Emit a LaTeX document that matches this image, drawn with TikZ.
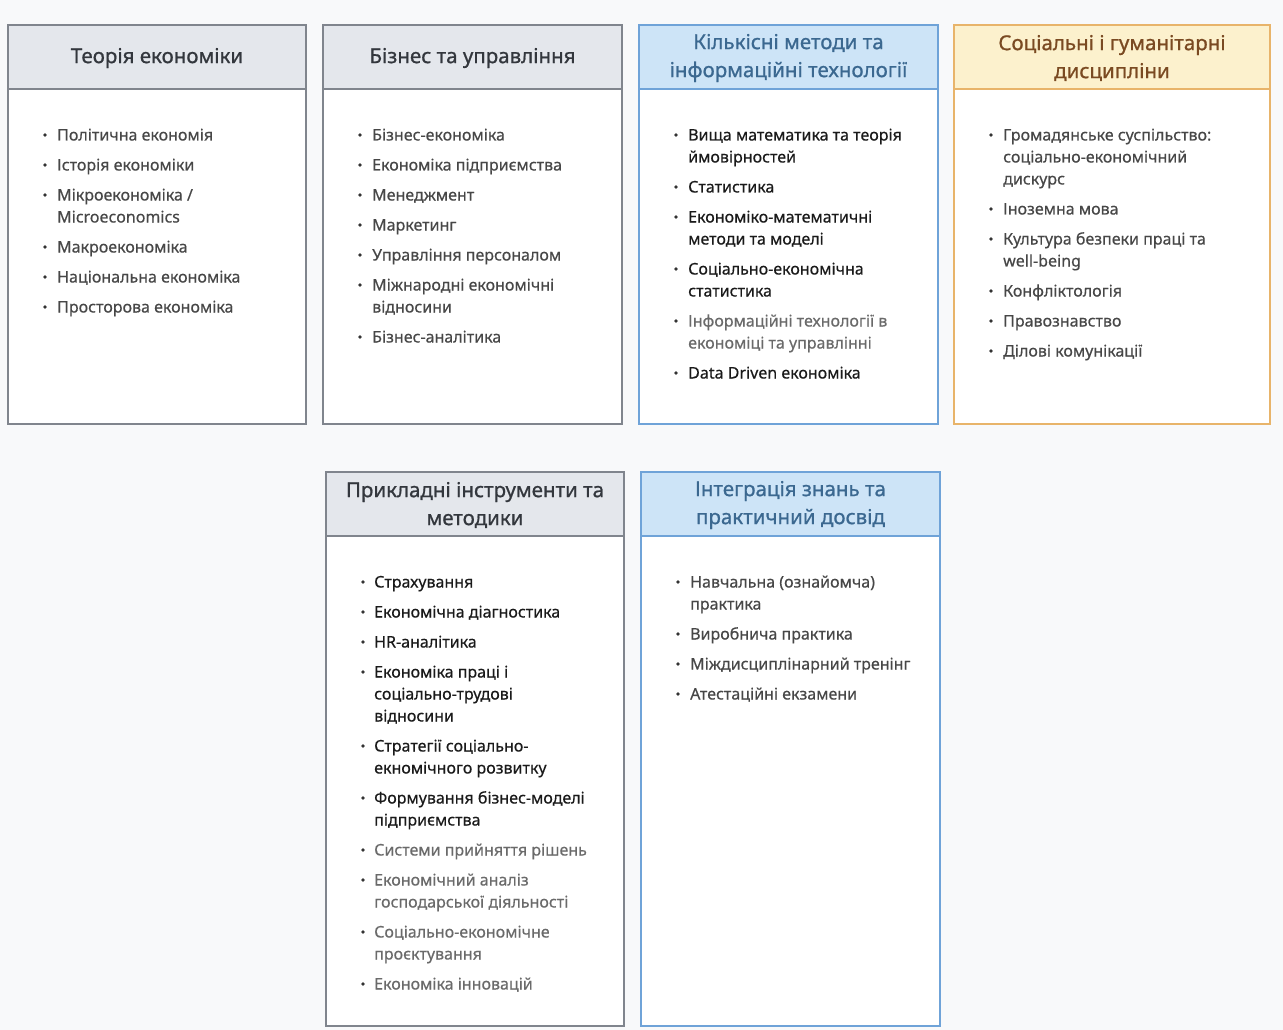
\documentclass[tikz,border=0pt]{standalone}
\usepackage{fontspec}
\setmainfont{Noto Sans}
\usepackage{tikz}
\usetikzlibrary{calc}

\definecolor{pagebg}{HTML}{F8F9FA}
\definecolor{greyhead}{HTML}{E4E7EC}
\definecolor{greyline}{HTML}{80858D}
\definecolor{greytitle}{HTML}{33373D}
\definecolor{bluehead}{HTML}{CDE4F7}
\definecolor{blueline}{HTML}{6FA3D8}
\definecolor{bluetitle}{HTML}{3B6890}
\definecolor{yellowhead}{HTML}{FCF1CD}
\definecolor{yellowline}{HTML}{E8B46A}
\definecolor{yellowtitle}{HTML}{7A4A22}
\definecolor{itemgrey}{HTML}{474747}
\definecolor{itemdark}{HTML}{1A1A1A}
\definecolor{itemlight}{HTML}{6A6A6A}

\newfontfamily\titlefont[FakeBold=0.9]{Noto Sans}
\newfontfamily\itemfont[FakeBold=0.45]{Noto Sans}

\begin{document}
\begin{tikzpicture}[x=1pt, y=-1pt,
    panel/.style={line width=1.4pt, fill=white},
    header/.style={line width=1.4pt},
    title/.style={align=center, font=\titlefont\fontsize{20.5}{28}\selectfont},
    item/.style={anchor=base west, inner sep=0pt, font=\itemfont\fontsize{16}{22}\selectfont},
    dot/.style={fill=black!80}]

        % page
        \fill[pagebg] (0,0) rectangle (1283,1030);
        \useasboundingbox (0,0) rectangle (1283,1030);

        % Теорія економіки
        \draw[panel, draw=greyline] (8,25) rectangle (306,424);
        \draw[header, draw=greyline, fill=greyhead] (8,25) rectangle (306,89);
        \node[title, text=greytitle] (h1) at (157,58) {Теорія економіки};
        \foreach \y in {135,165,195,247,277,307} {
            \fill[dot] (45,\y) circle (1.8pt);
        }
        \foreach \y/\t [count=\i] in {135/Політична економія, 165/Історія економіки,
            195/{Мікроекономіка /}, 217/Microeconomics, 247/Макроекономіка,
            277/Національна економіка, 307/Просторова економіка} {
            \node[item, text=itemgrey] (a\i) at (57,\y+5.5) {\t};
        }

        % Бізнес та управління
        \draw[panel, draw=greyline] (323,25) rectangle (622,424);
        \draw[header, draw=greyline, fill=greyhead] (323,25) rectangle (622,89);
        \node[title, text=greytitle] (h2) at (472.5,58) {Бізнес та управління};
        \foreach \y in {135,165,195,225,255,285,337} {
            \fill[dot] (360,\y) circle (1.8pt);
        }
        \foreach \y/\t [count=\i] in {135/Бізнес-економіка, 165/Економіка підприємства,
            195/Менеджмент, 225/Маркетинг, 255/Управління персоналом,
            285/Міжнародні економічні, 307/відносини, 337/Бізнес-аналітика} {
            \node[item, text=itemgrey] (b\i) at (372,\y+5.5) {\t};
        }

        % Кількісні методи та інформаційні технології
        \draw[panel, draw=blueline] (639,25) rectangle (938,424);
        \draw[header, draw=blueline, fill=bluehead] (639,25) rectangle (938,89);
        \node[title, text=bluetitle] (h3) at (788.5,58) {Кількісні методи та\\інформаційні технології};
        \foreach \y in {135,187,217,269,321,373} {
            \fill[dot] (676,\y) circle (1.8pt);
        }
        \foreach \y/\c/\t [count=\i] in {135/itemdark/Вища математика та теорія,
            157/itemdark/ймовірностей, 187/itemdark/Статистика,
            217/itemdark/Економіко-математичні, 239/itemdark/методи та моделі,
            269/itemdark/Соціально-економічна, 291/itemdark/статистика,
            321/itemlight/Інформаційні технології в, 343/itemlight/економіці та управлінні,
            373/itemdark/Data Driven економіка} {
            \node[item, text=\c] (c\i) at (688,\y+5.5) {\t};
        }

        % Соціальні і гуманітарні дисципліни
        \draw[panel, draw=yellowline] (954,25) rectangle (1270,424);
        \draw[header, draw=yellowline, fill=yellowhead] (954,25) rectangle (1270,89);
        \node[title, text=yellowtitle] (h4) at (1112,58) {Соціальні і гуманітарні\\дисципліни};
        \foreach \y in {135,209,239,291,321,351} {
            \fill[dot] (991,\y) circle (1.8pt);
        }
        \foreach \y/\t [count=\i] in {135/Громадянське суспільство:,
            157/соціально-економічний, 179/дискурс, 209/Іноземна мова,
            239/Культура безпеки праці та, 261/well-being, 291/Конфліктологія,
            321/Правознавство, 351/Ділові комунікації} {
            \node[item, text=itemgrey] (d\i) at (1003,\y+5.5) {\t};
        }

        % Прикладні інструменти та методики
        \draw[panel, draw=greyline] (326,472) rectangle (624,1026);
        \draw[header, draw=greyline, fill=greyhead] (326,472) rectangle (624,536);
        \node[title, text=greytitle] (h5) at (475,505) {Прикладні інструменти та\\методики};
        \foreach \y in {582,612,642,672,746,798,850,880,932,984} {
            \fill[dot] (363,\y) circle (1.8pt);
        }
        \foreach \y/\c/\t [count=\i] in {582/itemdark/Страхування,
            612/itemdark/Економічна діагностика, 642/itemdark/HR-аналітика,
            672/itemdark/Економіка праці і, 694/itemdark/соціально-трудові,
            716/itemdark/відносини, 746/itemdark/Стратегії соціально-,
            768/itemdark/екномічного розвитку, 798/itemdark/Формування бізнес-моделі,
            820/itemdark/підприємства, 850/itemlight/Системи прийняття рішень,
            880/itemlight/Економічний аналіз, 902/itemlight/господарської діяльності,
            932/itemlight/Соціально-економічне, 954/itemlight/проєктування,
            984/itemlight/Економіка інновацій} {
            \node[item, text=\c] (e\i) at (374,\y+5.5) {\t};
        }

        % Інтеграція знань та практичний досвід
        \draw[panel, draw=blueline] (641,472) rectangle (940,1026);
        \draw[header, draw=blueline, fill=bluehead] (641,472) rectangle (940,536);
        \node[title, text=bluetitle] (h6) at (790.5,505) {Інтеграція знань та\\практичний досвід};
        \foreach \y in {582,634,664,694} {
            \fill[dot] (678,\y) circle (1.8pt);
        }
        \foreach \y/\t [count=\i] in {582/Навчальна (ознайомча), 604/практика,
            634/Виробнича практика, 664/Міждисциплінарний тренінг,
            694/Атестаційні екзамени} {
            \node[item, text=itemgrey] (f\i) at (690,\y+5.5) {\t};
        }

    \end{tikzpicture}
\end{document}
